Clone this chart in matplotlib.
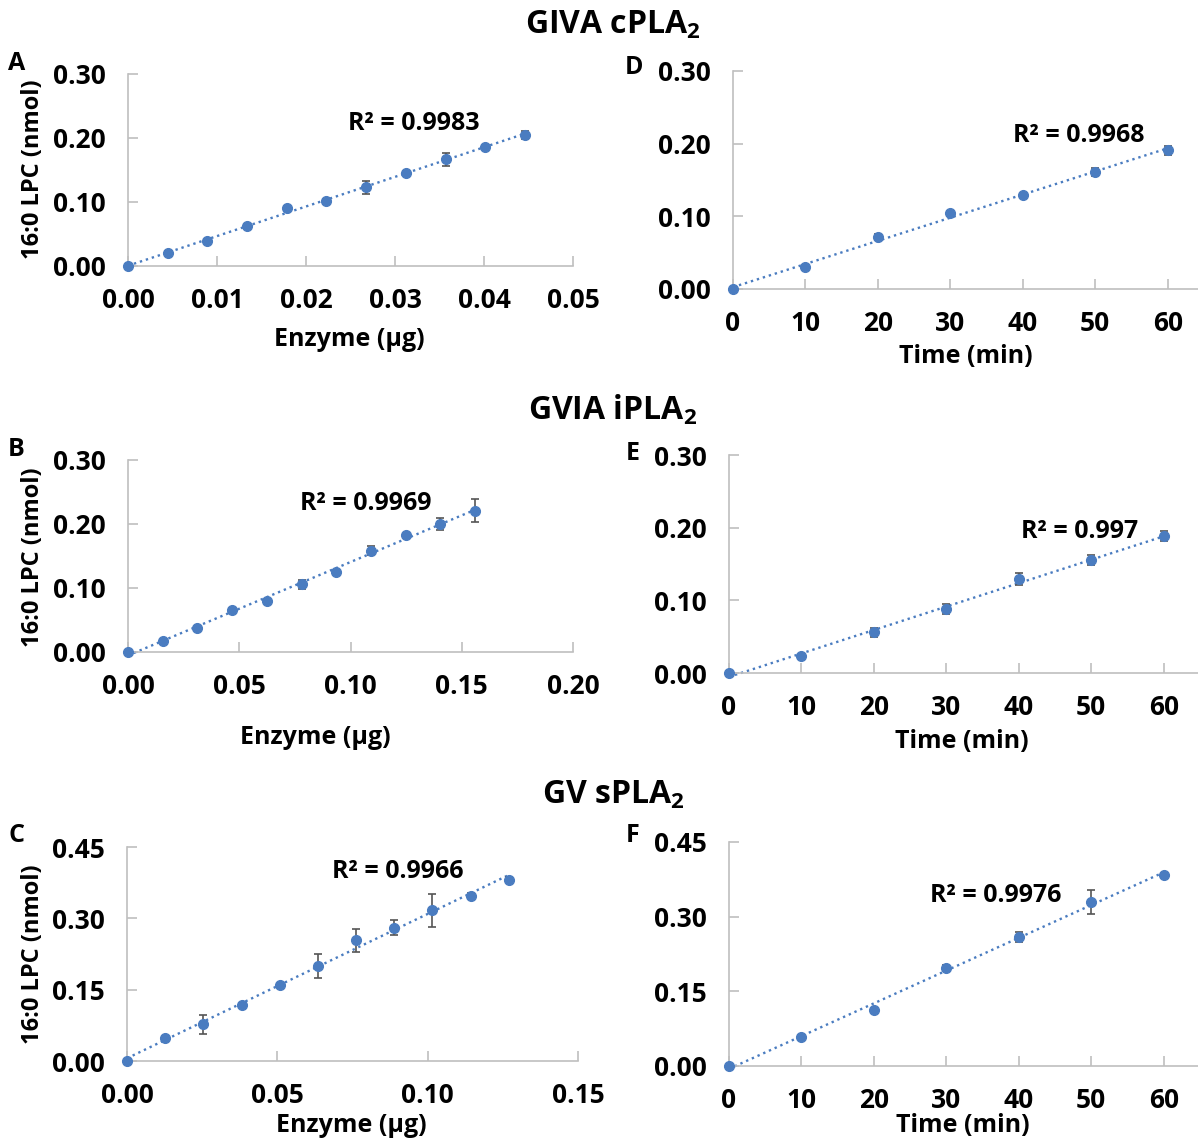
import numpy as np
import matplotlib
matplotlib.use("Agg")
from matplotlib import pyplot as plt

plt.rcParams['font.family'] = ['Open Sans', 'DejaVu Sans']
plt.rcParams['font.weight'] = 'bold'
plt.rcParams['mathtext.fontset'] = 'custom'
plt.rcParams['mathtext.rm'] = 'Open Sans:bold'
plt.rcParams['mathtext.default'] = 'rm'

# ---- data ----
# GIVA cPLA2
a_x = [0, 0.00446, 0.00892, 0.01338, 0.01784, 0.0223, 0.02676, 0.03122, 0.03568, 0.04014, 0.0446]
a_y = [0, 0.021, 0.039, 0.062, 0.090, 0.101, 0.123, 0.146, 0.167, 0.186, 0.205]
a_e = [0, 0.002, 0.002, 0.002, 0.003, 0.004, 0.010, 0.003, 0.010, 0.002, 0.006]
d_x = [0, 10, 20, 30, 40, 50, 60]
d_y = [0, 0.030, 0.072, 0.104, 0.129, 0.161, 0.191]
d_e = [0, 0.002, 0.004, 0.003, 0.002, 0.005, 0.006]
# GVIA iPLA2
b_x = [0, 0.0156, 0.0312, 0.0468, 0.0624, 0.078, 0.0936, 0.1092, 0.1248, 0.1404, 0.156]
b_y = [0, 0.017, 0.037, 0.066, 0.080, 0.106, 0.125, 0.158, 0.183, 0.200, 0.221]
b_e = [0, 0.002, 0.002, 0.003, 0.002, 0.007, 0.003, 0.007, 0.002, 0.010, 0.018]
e_x = [0, 10, 20, 30, 40, 50, 60]
e_y = [0, 0.023, 0.056, 0.088, 0.129, 0.156, 0.188]
e_e = [0, 0.002, 0.006, 0.007, 0.008, 0.007, 0.007]
# GV sPLA2
c_x = [0, 0.0127, 0.0254, 0.0381, 0.0508, 0.0635, 0.0762, 0.0889, 0.1016, 0.1143, 0.127]
c_y = [0, 0.049, 0.077, 0.118, 0.159, 0.200, 0.254, 0.280, 0.317, 0.348, 0.381]
c_e = [0, 0.003, 0.020, 0.003, 0.003, 0.026, 0.024, 0.016, 0.035, 0.005, 0.005]
f_x = [0, 10, 20, 30, 40, 50, 60]
f_y = [0, 0.058, 0.113, 0.197, 0.260, 0.330, 0.384]
f_e = [0, 0.004, 0.004, 0.006, 0.010, 0.024, 0.004]

r2 = ["0.9983", "0.9968", "0.9969", "0.997", "0.9966", "0.9976"]
titles = ["GIVA cPLA$_2$", "GVIA iPLA$_2$", "GV sPLA$_2$"]

W, H = 1198, 1142
fig = plt.figure(figsize=(W / 100, H / 100), dpi=100)

blue = '#4A7CC0'
grey = '#BFBFBF'


def px_axes(l, r, t, b):
    return fig.add_axes([l / W, 1 - b / H, (r - l) / W, (b - t) / H])


def ftext(x, y, s, **kw):
    fig.text(x / W, 1 - y / H, s, ha='center', va='center', **kw)


def panel(ax, x, y, e, xlim, xticks, xfmt, ylim, yticks):
    x = np.array(x)
    y = np.array(y)
    m, c = np.polyfit(x, y, 1)
    xx = np.array([0, x.max()])
    ax.plot(xx, m * xx + c, ls=':', color=blue, lw=1.7, clip_on=False)
    ax.errorbar(x, y, yerr=e, fmt='o', color=blue, ms=7, ecolor='#555555',
                elinewidth=1.2, capsize=3, capthick=1.2, clip_on=False, zorder=3)
    ax.set_xlim(xlim)
    ax.set_ylim(ylim)
    ax.set_xticks(xticks)
    ax.set_yticks(yticks)
    ax.set_xticklabels([xfmt % v for v in xticks])
    ax.set_yticklabels(['%.2f' % v for v in yticks])
    for s in ['top', 'right']:
        ax.spines[s].set_visible(False)
    for s in ['left', 'bottom']:
        ax.spines[s].set_color(grey)
        ax.spines[s].set_linewidth(1.2)
    ax.tick_params(direction='in', length=7, width=1.2, color=grey,
                   labelsize=19, pad=15)
    ax.tick_params(axis='y', pad=16)


ax = px_axes(128, 573, 74, 266)
panel(ax, a_x, a_y, a_e, (0, 0.05), [0, 0.01, 0.02, 0.03, 0.04, 0.05], '%.2f', (0, 0.30), [0, 0.1, 0.2, 0.3])
ax = px_axes(733, 1204, 71, 289)
panel(ax, d_x, d_y, d_e, (0, 65), [0, 10, 20, 30, 40, 50, 60], '%d', (0, 0.30), [0, 0.1, 0.2, 0.3])
ax = px_axes(128, 573, 460, 652)
panel(ax, b_x, b_y, b_e, (0, 0.20), [0, 0.05, 0.10, 0.15, 0.20], '%.2f', (0, 0.30), [0, 0.1, 0.2, 0.3])
ax = px_axes(729, 1200, 455, 673)
panel(ax, e_x, e_y, e_e, (0, 65), [0, 10, 20, 30, 40, 50, 60], '%d', (0, 0.30), [0, 0.1, 0.2, 0.3])
ax = px_axes(127, 578, 847, 1061)
panel(ax, c_x, c_y, c_e, (0, 0.15), [0, 0.05, 0.10, 0.15], '%.2f', (0, 0.45), [0, 0.15, 0.30, 0.45])
ax = px_axes(729, 1200, 842, 1066)
panel(ax, f_x, f_y, f_e, (0, 65), [0, 10, 20, 30, 40, 50, 60], '%d', (0, 0.45), [0, 0.15, 0.30, 0.45])

# titles
ftext(613, 25, titles[0], fontsize=23)
ftext(613, 410, titles[1], fontsize=23)
ftext(613, 795, titles[2], fontsize=23)

# panel letters
for lab, (x, y) in zip("ADBECF", [(17, 64), (634, 68), (16, 450), (633, 453), (16, 836), (633, 836)]):
    ftext(x, y, lab, fontsize=18)

# y labels
for y in [169, 557, 954]:
    ftext(33, y, "16:0 LPC (nmol)", fontsize=17, rotation=90)

# x labels
ftext(349, 339, "Enzyme (µg)", fontsize=18)
ftext(966, 356, "Time (min)", fontsize=18)
ftext(315, 737, "Enzyme (µg)", fontsize=18)
ftext(962, 741, "Time (min)", fontsize=18)
ftext(351, 1126, "Enzyme (µg)", fontsize=18)
ftext(963, 1126, "Time (min)", fontsize=18)

# R^2 labels
for s, (x, y) in zip(r2, [(414, 124), (1079, 136), (366, 503), (1080, 531), (398, 871), (996, 895)]):
    ftext(x, y, "R² = " + s, fontsize=18)

fig.savefig("out.png", dpi=100)
